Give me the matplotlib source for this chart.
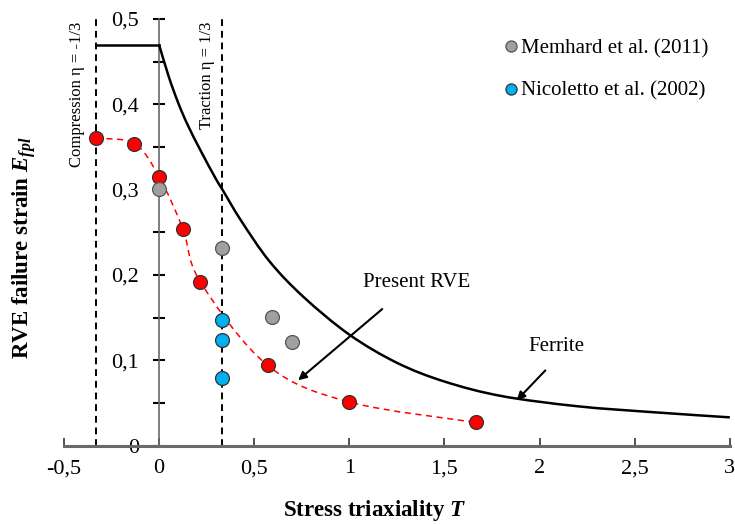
import numpy as np
import matplotlib
matplotlib.use("Agg")
import matplotlib.pyplot as plt
from matplotlib.path import Path
from matplotlib.patches import PathPatch
from matplotlib.ticker import MultipleLocator, FuncFormatter

plt.rcParams['font.family'] = ['Liberation Serif', 'DejaVu Serif']
plt.rcParams['mathtext.fontset'] = 'custom'
plt.rcParams['mathtext.rm'] = 'Liberation Serif:bold'
plt.rcParams['mathtext.it'] = 'Liberation Serif:italic:bold'
plt.rcParams['mathtext.bf'] = 'Liberation Serif:bold'

# present RVE results
rve_T = [-0.333, -0.13, 0.0, 0.125, 0.2165, 0.57, 1.0, 1.667]
rve_E = [0.360, 0.354, 0.315, 0.254, 0.192, 0.094, 0.051, 0.027]

# Memhard et al. (2011)
mem_T = [0.0, 0.333, 0.595, 0.70]
mem_E = [0.301, 0.232, 0.151, 0.121]

# Nicoletto et al. (2002)
nic_T = [0.333, 0.333, 0.333]
nic_E = [0.147, 0.124, 0.079]

# ferrite failure curve
fer_T = [-0.333, 0.0, 0.05, 0.1, 0.15, 0.22, 0.3, 0.333, 0.43, 0.58, 0.76,
         1.0, 1.25, 1.5, 1.8, 2.2, 2.6, 3.0]
fer_E = [0.47, 0.47, 0.433, 0.402, 0.376, 0.345, 0.312, 0.300, 0.264, 0.216,
         0.174, 0.130, 0.097, 0.075, 0.058, 0.046, 0.039, 0.033]

x_ticks = [-0.5, 0, 0.5, 1, 1.5, 2, 2.5, 3]
y_ticks = [0, 0.1, 0.2, 0.3, 0.4, 0.5]


def smooth_path(xs, ys):
    # cubic bezier through the points (Excel style smoothed line)
    p = np.column_stack([xs, ys])
    n = len(p)
    verts = [p[0]]
    codes = [Path.MOVETO]
    for i in range(n - 1):
        p0 = p[i - 1] if i > 0 else p[i]
        p3 = p[i + 2] if i + 2 < n else p[i + 1]
        c1 = p[i] + (p[i + 1] - p0) / 6.0
        c2 = p[i + 1] - (p3 - p[i]) / 6.0
        verts += [c1, c2, p[i + 1]]
        codes += [Path.CURVE4] * 3
    return Path(verts, codes)


fig = plt.figure(figsize=(7.35, 5.25), dpi=100)
ax = fig.add_axes([0.087, 0.1514, 0.906, 0.8124])

ax.set_xlim(-0.5, 3)
ax.set_ylim(0, 0.5)

# loading state lines
for xv in (-1/3, 1/3):
    ax.plot([xv, xv], [0, 0.5], color='black', lw=1.4, ls=(0, (3.5, 2.5)),
            zorder=2, clip_on=False)

ax.text(-0.432, 0.497, 'Compression η = -1/3', rotation=90, ha='center',
        va='top', fontsize=12)
ax.text(0.252, 0.497, 'Traction η = 1/3', rotation=90, ha='center',
        va='top', fontsize=12)

# ferrite: plateau in compression, smooth decay beyond T = 0
ax.plot(fer_T[:2], fer_E[:2], color='black', lw=1.8, zorder=3)
ax.add_patch(PathPatch(smooth_path(fer_T[1:], fer_E[1:]), fill=False,
                       edgecolor='black', lw=1.8, zorder=3))

ax.add_patch(PathPatch(smooth_path(rve_T, rve_E), fill=False, edgecolor='red',
                       lw=1.1, ls=(0, (4, 3)), zorder=3))

ax.plot(rve_T, rve_E, ls='none', marker='o', ms=10, mfc='#FF0000',
        mec='#333333', mew=0.9, zorder=5)
ax.plot(mem_T, mem_E, ls='none', marker='o', ms=10, mfc='#A0A0A0',
        mec='#555555', mew=0.9, zorder=5, label='Memhard et al. (2011)')
ax.plot(nic_T, nic_E, ls='none', marker='o', ms=10, mfc='#00B0F0',
        mec='#333333', mew=0.9, zorder=5, label='Nicoletto et al. (2002)')

leg = ax.legend(loc='upper left', bbox_to_anchor=(0.648, 0.978), frameon=False,
                fontsize=15, borderpad=0, handlelength=0.45, handletextpad=0.3,
                labelspacing=1.1, markerscale=0.8)

ax.annotate('', xy=(0.731, 0.0765), xytext=(1.173, 0.16),
            arrowprops=dict(arrowstyle='-|>', color='black', lw=1.5,
                            mutation_scale=12, shrinkA=0, shrinkB=0))
ax.text(1.352, 0.180, 'Present RVE', fontsize=15, ha='center', va='bottom')
ax.annotate('', xy=(1.88, 0.053), xytext=(2.03, 0.088),
            arrowprops=dict(arrowstyle='-|>', color='black', lw=1.5,
                            mutation_scale=12, shrinkA=0, shrinkB=0))
ax.text(2.09, 0.105, 'Ferrite', fontsize=15, ha='center', va='bottom')

# axes crossing at the origin
ax.spines['top'].set_visible(False)
ax.spines['right'].set_visible(False)
ax.spines['left'].set_position(('data', 0))
ax.spines['left'].set_color('#6a6a6a')
ax.spines['left'].set_linewidth(1.2)
ax.spines['bottom'].set_color('#6a6a6a')
ax.spines['bottom'].set_linewidth(2.2)

ax.set_xticks(x_ticks)
ax.set_yticks(y_ticks)
ax.yaxis.set_minor_locator(MultipleLocator(0.05))
comma = FuncFormatter(lambda v, pos: ('%g' % round(v, 2)).replace('.', ','))
ax.xaxis.set_major_formatter(comma)
ax.yaxis.set_major_formatter(comma)

ax.tick_params(axis='y', which='major', direction='inout', length=9, width=1.5,
               color='black', labelsize=16, pad=10)
ax.tick_params(axis='y', which='minor', direction='inout', length=8, width=1.5,
               color='black')
ax.tick_params(axis='x', which='major', direction='in', length=6, width=1.2,
               color='#333333', labelsize=16, pad=10)

ax.set_xlabel('Stress triaxiality $T$', fontsize=16.5, fontweight='bold')
ax.xaxis.set_label_coords(0.467, -0.122)
ax.text(-0.71, 0.232, 'RVE failure strain $E_{fpl}$', rotation=90,
        fontsize=16.5, fontweight='bold', ha='center', va='center',
        transform=ax.transData, clip_on=False)

fig.savefig('out.png', dpi=100)
